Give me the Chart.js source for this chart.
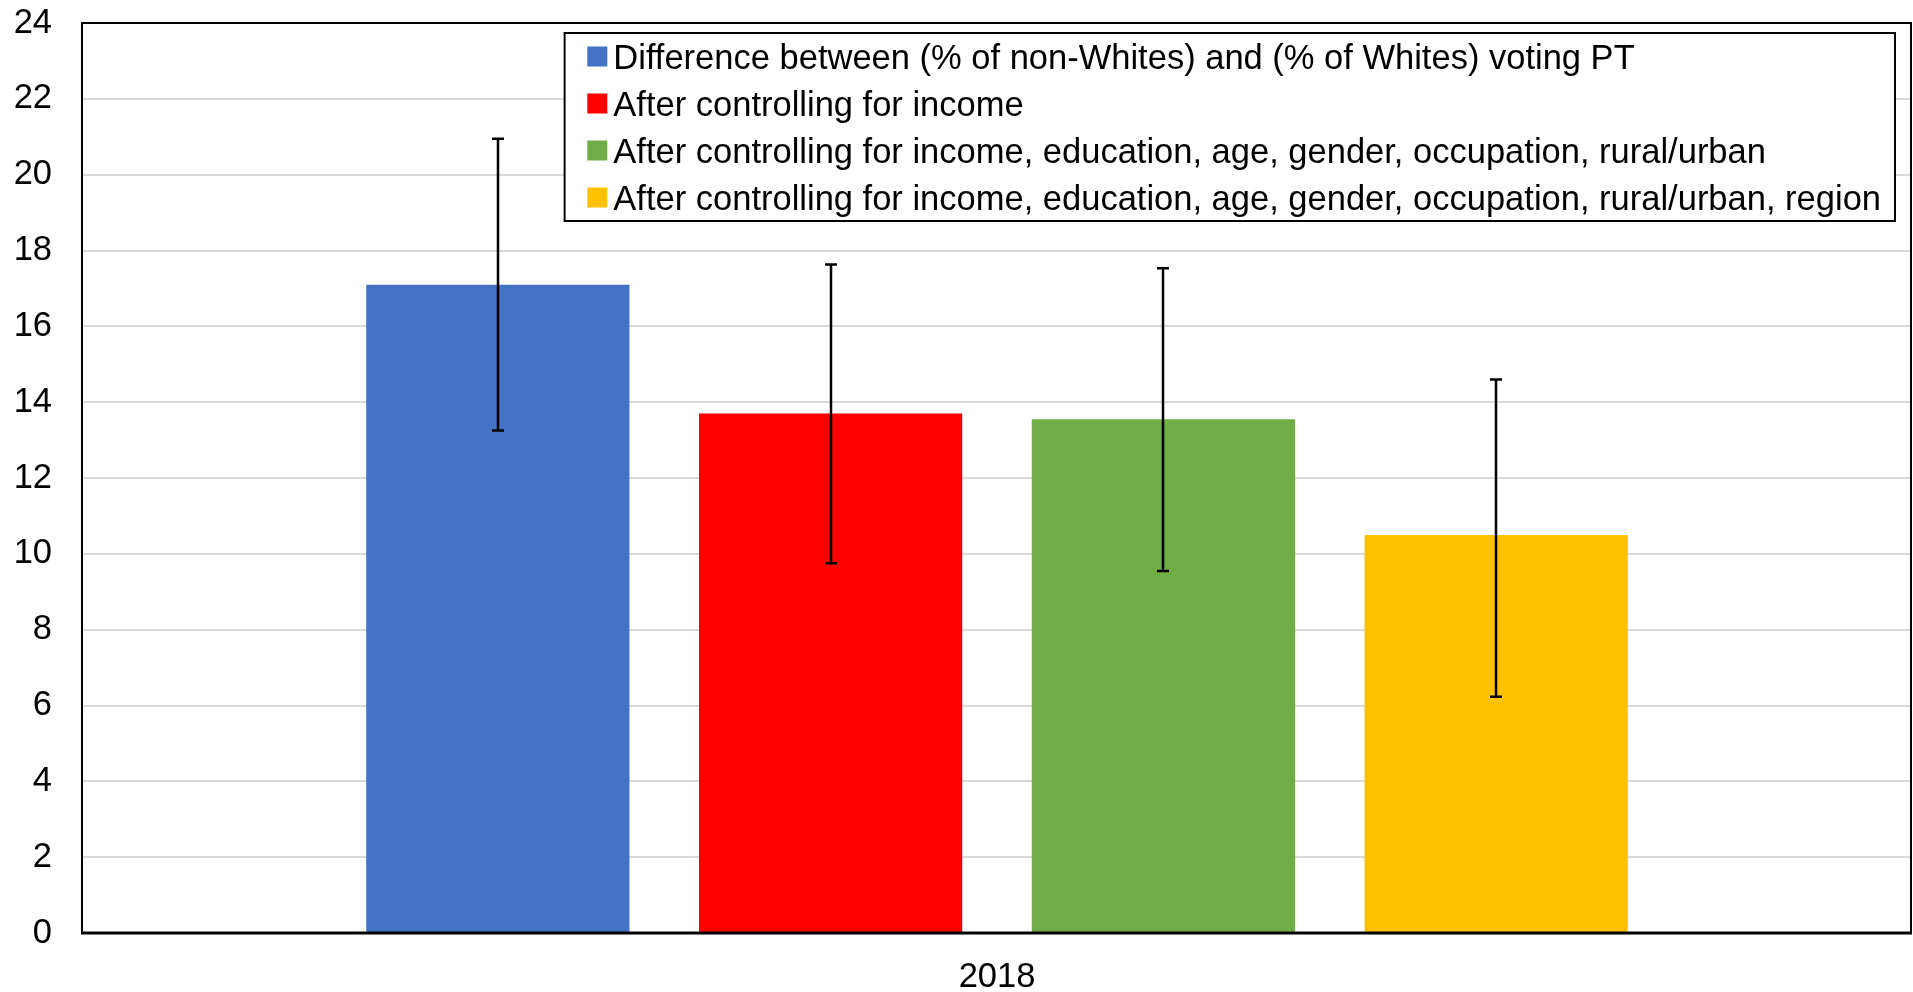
<!DOCTYPE html>
<html>
<head>
<meta charset="utf-8">
<title>PT vote gap 2018</title>
<script src="https://cdn.jsdelivr.net/npm/chart.js@4.4.0/dist/chart.umd.min.js"></script>
<style>
  html, body { margin: 0; padding: 0; background: #fff; }
  #wrap { width: 1913px; height: 992px; }
</style>
</head>
<body>
<div id="wrap"><canvas id="myChart" width="1913" height="992"></canvas></div>
<script>
// data
const categories = ['2018'];
const seriesNames = [
  'Difference between (% of non-Whites) and (% of Whites) voting PT',
  'After controlling for income',
  'After controlling for income, education, age, gender, occupation, rural/urban',
  'After controlling for income, education, age, gender, occupation, rural/urban, region'
];
const seriesColors = ['#4472C4', '#FF0000', '#70AD47', '#FFC000'];
const seriesValues = [17.1, 13.7, 13.55, 10.5];
const errLow = [13.25, 9.75, 9.55, 6.23];
const errHigh = [20.95, 17.63, 17.53, 14.6];
const yMin = 0, yMax = 24, yStep = 2;

const FONT = "'Liberation Sans', Arial, sans-serif";
const FONT_SIZE = 34.5;

Chart.defaults.font.family = FONT;
Chart.defaults.font.size = FONT_SIZE;
Chart.defaults.color = '#000';

// black frame round the plot area
const frame = {
  id: 'frame',
  afterDatasetsDraw(chart) {
    const {ctx, chartArea: a} = chart;
    ctx.save();
    ctx.strokeStyle = '#000';
    ctx.lineWidth = 2;
    ctx.beginPath();
    ctx.moveTo(a.left, a.bottom);
    ctx.lineTo(a.left, a.top);
    ctx.lineTo(a.right - 1, a.top);
    ctx.lineTo(a.right - 1, a.bottom);
    ctx.stroke();
    ctx.lineWidth = 3;
    ctx.beginPath();
    ctx.moveTo(a.left - 1, a.bottom);
    ctx.lineTo(a.right, a.bottom);
    ctx.stroke();
    ctx.restore();
  }
};

// whiskers from errLow to errHigh on every bar
const errorBars = {
  id: 'errorBars',
  afterDatasetsDraw(chart) {
    const ctx = chart.ctx;
    const y = chart.scales.y;
    ctx.save();
    ctx.strokeStyle = '#000';
    ctx.lineWidth = 2.5;
    chart.data.datasets.forEach((ds, i) => {
      const bar = chart.getDatasetMeta(i).data[0];
      if (!bar) return;
      const lo = y.getPixelForValue(ds.errLow[0]);
      const hi = y.getPixelForValue(ds.errHigh[0]);
      const x = Math.round(bar.x);
      ctx.beginPath();
      ctx.moveTo(x, hi); ctx.lineTo(x, lo);
      ctx.moveTo(x - 6, hi); ctx.lineTo(x + 6, hi);
      ctx.moveTo(x - 6, lo); ctx.lineTo(x + 6, lo);
      ctx.stroke();
    });
    ctx.restore();
  }
};

// boxed legend in the top right corner
const boxLegend = {
  id: 'boxLegend',
  afterDraw(chart) {
    const {ctx, chartArea: a} = chart;
    const sets = chart.data.datasets;
    ctx.save();
    ctx.font = FONT_SIZE + 'px ' + FONT;
    let maxW = 0;
    sets.forEach(ds => { maxW = Math.max(maxW, ctx.measureText(ds.label).width); });
    const right = a.right - 17;
    const top = a.top + 10;
    const left = right - (22.7 + 20 + 6 + maxW + 14);
    const rowH = 47;
    const h = rowH * sets.length;
    ctx.fillStyle = '#fff';
    ctx.fillRect(left, top, right - left, h);
    ctx.strokeStyle = '#000';
    ctx.lineWidth = 2;
    ctx.strokeRect(left, top, right - left, h);
    ctx.textBaseline = 'alphabetic';
    ctx.textAlign = 'left';
    sets.forEach((ds, i) => {
      const cy = top + 23.5 + rowH * i;
      ctx.fillStyle = ds.backgroundColor;
      ctx.fillRect(left + 22.7, cy - 10, 20, 20);
      ctx.fillStyle = '#000';
      ctx.fillText(ds.label, left + 48.7, cy + 12);
    });
    ctx.restore();
  }
};

const canvas = document.getElementById('myChart');
const ctx = canvas.getContext('2d');

new Chart(ctx, {
  type: 'bar',
  data: {
    labels: categories,
    datasets: seriesNames.map((name, i) => ({
      label: name,
      data: [seriesValues[i]],
      errLow: [errLow[i]],
      errHigh: [errHigh[i]],
      backgroundColor: seriesColors[i],
      borderWidth: 0
    }))
  },
  options: {
    responsive: false,
    devicePixelRatio: 1,
    animation: false,
    categoryPercentage: 0.7274,
    barPercentage: 0.791,
    layout: { padding: { top: 23, right: 1, left: 0, bottom: 0 } },
    scales: {
      x: {
        grid: { display: false, drawTicks: false },
        border: { display: false },
        ticks: { padding: 24, font: { size: FONT_SIZE } },
        afterFit(scale) { scale.height = 59; }
      },
      y: {
        min: yMin,
        max: yMax,
        // invisible tick marks keep the labels off the axis
        grid: { color: '#d9d9d9', lineWidth: 2, drawTicks: true, tickLength: 30, tickColor: 'rgba(0,0,0,0)' },
        border: { display: false },
        ticks: { stepSize: yStep, padding: 0, font: { size: FONT_SIZE } },
        afterFit(scale) { scale.width = 82; }
      }
    },
    plugins: {
      legend: { display: false },
      tooltip: { enabled: false }
    }
  },
  plugins: [frame, errorBars, boxLegend]
});
</script>
</body>
</html>
